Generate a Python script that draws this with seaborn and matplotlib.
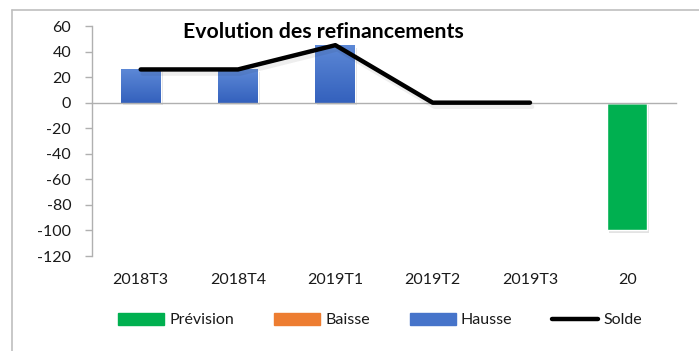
import numpy as np
import pandas as pd
import matplotlib
matplotlib.use("Agg")
import matplotlib.pyplot as plt
import matplotlib.patheffects as pe
from matplotlib.lines import Line2D
from matplotlib.patches import Patch
from matplotlib.colors import LinearSegmentedColormap
import seaborn as sns

# Quarterly refinancing flows
categories = ["2018T3", "2018T4", "2019T1", "2019T2", "2019T3", "20"]
prevision = [0, 0, 0, 0, 0, -100]
baisse = [0, 0, 0, 0, 0, 0]
hausse = [26, 26, 45, 0, 0, 0]
solde = [26, 26, 45, 0, 0]
yticks = [60, 40, 20, 0, -20, -40, -60, -80, -100, -120]

c_prev = "#00B050"
c_baisse = "#ED7D31"
c_hausse = "#4674CA"
text_col = "#1a1a1a"
axis_col = "#b0b0b0"

sns.set_theme(style="white")
plt.rcParams["font.family"] = ["Lato", "DejaVu Sans"]

fig = plt.figure(figsize=(6.99, 3.51), dpi=100)
ax = fig.add_axes([92 / 699, 1 - 256 / 351, (676 - 92) / 699, (256 - 26) / 351])

df = pd.DataFrame({"cat": categories, "prev": prevision,
                   "baisse": baisse, "hausse": hausse})

bar_fx = [pe.SimplePatchShadow(offset=(1.5, -2), alpha=0.15, shadow_rgbFace="#444444"), pe.Normal()]
n_before = 0
series_patches = {}
for col, color in [("prev", c_prev), ("baisse", c_baisse), ("hausse", c_hausse)]:
    sns.barplot(data=df, x="cat", y=col, color=color, width=0.41,
                saturation=1, ax=ax, order=categories)
    series_patches[col] = ax.patches[n_before:]
    n_before = len(ax.patches)

for patch in ax.patches:
    if abs(patch.get_height()) > 0:
        patch.set_path_effects(bar_fx)

# Soft vertical gradient on the "Hausse" bars
blue_grad = LinearSegmentedColormap.from_list("hausse_grad", ["#3461BD", "#5C88D6"])
grad = np.linspace(0, 1, 64).reshape(-1, 1)
for patch in series_patches["hausse"]:
    h = patch.get_height()
    if h > 0:
        x0 = patch.get_x()
        w = patch.get_width()
        y0 = patch.get_y()
        im = ax.imshow(grad, cmap=blue_grad, origin="lower", aspect="auto",
                       extent=(x0, x0 + w, y0, y0 + h), zorder=patch.get_zorder() + 0.01)
        im.set_clip_path(patch)

sns.lineplot(x=np.arange(len(solde)), y=solde, color="black", linewidth=3.2,
             ax=ax, solid_capstyle="round", zorder=5,
             path_effects=[pe.SimpleLineShadow(offset=(1.5, -3), alpha=0.07), pe.Normal()])

ax.set_ylim(-120, 60)
ax.set_xlim(-0.5, len(categories) - 0.5)
ax.set_yticks(yticks)
ax.set_yticklabels([str(v) for v in yticks], fontsize=11.5, color=text_col)
ax.set_xlabel("")
ax.set_ylabel("")

# Horizontal axis crosses at zero; category labels sit below the plot
for s in ["top", "right"]:
    ax.spines[s].set_visible(False)
ax.spines["bottom"].set_position(("data", 0))
ax.spines["bottom"].set_color(axis_col)
ax.spines["left"].set_color(axis_col)
ax.spines["bottom"].set_linewidth(1)
ax.spines["left"].set_linewidth(1)

ax.set_xticks(np.arange(len(categories) + 1) - 0.5)
ax.set_xticklabels([])
ax.tick_params(axis="x", direction="out", length=5, color=axis_col, width=1)
ax.tick_params(axis="y", direction="out", length=5, color=axis_col, width=1, pad=10, left=True)
for i, lab in enumerate(categories):
    ax.text(i, -0.105, lab, transform=ax.get_xaxis_transform(),
            ha="center", va="center", fontsize=11.5, color=text_col)

fig.text(323 / 699, 1 - 32 / 351, "Evolution des refinancements",
         ha="center", va="center", fontsize=15.3, fontweight="bold", color="black")

handles = [Patch(color=c_prev), Patch(color=c_baisse), Patch(color=c_hausse),
           Line2D([], [], color="black", linewidth=3.2)]
labels = ["Prévision", "Baisse", "Hausse", "Solde"]
fig.legend(handles, labels, loc="center", bbox_to_anchor=(380 / 699, 1 - 320 / 351),
           ncol=4, frameon=False, fontsize=11.5, handlelength=2.9, handleheight=0.8,
           columnspacing=2.5, handletextpad=0.3, labelcolor=text_col)

# Outer chart frame
fig.add_artist(Line2D([12 / 699, 12 / 699], [0, 1 - 10 / 351], transform=fig.transFigure,
                      color="#bfbfbf", linewidth=1.2))
fig.add_artist(Line2D([12 / 699, 1], [1 - 10 / 351, 1 - 10 / 351], transform=fig.transFigure,
                      color="#bfbfbf", linewidth=1.2))

fig.savefig("out.png", dpi=100, facecolor="white")
